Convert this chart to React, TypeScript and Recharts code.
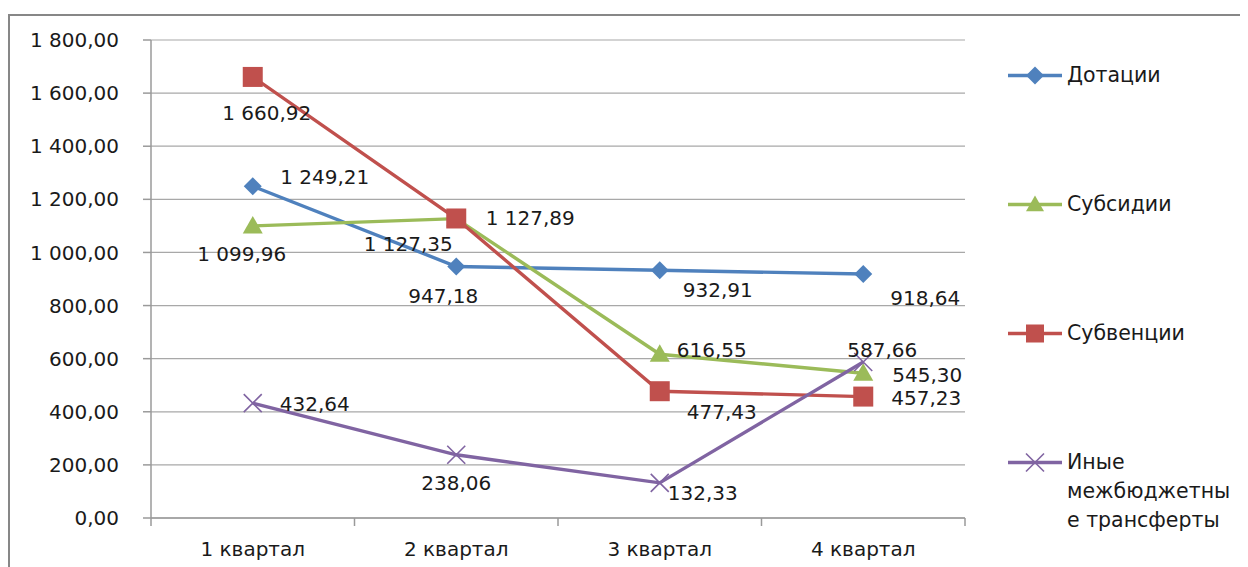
import React from 'react';
import { LineChart, Line, XAxis, YAxis, CartesianGrid, LabelList } from 'recharts';

const QUARTERS = ['1 квартал', '2 квартал', '3 квартал', '4 квартал'];
const DOTATIONS = [1249.21, 947.18, 932.91, 918.64];
const SUBSIDIES = [1099.96, 1127.35, 616.55, 545.3];
const SUBVENTIONS = [1660.92, 1127.89, 477.43, 457.23];
const OTHER = [432.64, 238.06, 132.33, 587.66];
const Y_TICKS = [0, 200, 400, 600, 800, 1000, 1200, 1400, 1600, 1800];

const FONT = '"DejaVu Sans", sans-serif';
const TEXT = '#1a1a1a';
const AXIS = '#9a9a9a';

const W = 1240;
const H = 550;
const PLOT_LEFT = 141;
const PLOT_RIGHT = 955;
const PLOT_TOP = 24;
const PLOT_BOTTOM = 502;
const BAND = (PLOT_RIGHT - PLOT_LEFT) / QUARTERS.length;

// label offsets from the point, [dx, dy]
const OFFS_DOT = [[72, -9], [-13, 30], [58, 20], [62, 24]];
const OFFS_SUBS = [[-11, 28], [-48, 25], [52, -4], [64, 2]];
const OFFS_SUBV = [[14, 36], [74, 0], [62, 21], [63, 1]];
const OFFS_OTHER = [[62, 1], [0, 28], [43, 10], [19, -12]];

const data = QUARTERS.map((q, i) => ({
  q,
  dot: DOTATIONS[i],
  subs: SUBSIDIES[i],
  subv: SUBVENTIONS[i],
  other: OTHER[i],
}));

function fmt(v: number) {
  const [int, dec] = v.toFixed(2).split('.');
  return int.replace(/\B(?=(\d{3})+(?!\d))/g, ' ') + ',' + dec;
}

const Diamond = ({ cx, cy, color, s = 9 }: any) =>
  cx == null ? null : (
    <path d={`M${cx},${cy - s}L${cx + s},${cy}L${cx},${cy + s}L${cx - s},${cy}Z`} fill={color} />
  );
const Square = ({ cx, cy, color, s = 10 }: any) =>
  cx == null ? null : <rect x={cx - s} y={cy - s} width={s * 2} height={s * 2} fill={color} />;
const Triangle = ({ cx, cy, color, s = 10 }: any) =>
  cx == null ? null : (
    <path d={`M${cx},${cy - s}L${cx + s},${cy + s * 0.75}L${cx - s},${cy + s * 0.75}Z`} fill={color} />
  );
const Cross = ({ cx, cy, color, s = 9 }: any) =>
  cx == null ? null : (
    <path d={`M${cx - s},${cy - s}L${cx + s},${cy + s}M${cx + s},${cy - s}L${cx - s},${cy + s}`} stroke={color} strokeWidth={1.6} fill="none" />
  );

const SERIES = [
  { key: 'dot', name: 'Дотации', legend: ['Дотации'], color: '#4F81BD', Marker: Diamond, offs: OFFS_DOT },
  { key: 'subs', name: 'Субсидии', legend: ['Субсидии'], color: '#9BBB59', Marker: Triangle, offs: OFFS_SUBS },
  { key: 'subv', name: 'Субвенции', legend: ['Субвенции'], color: '#C0504D', Marker: Square, offs: OFFS_SUBV },
  {
    key: 'other', name: 'Иные межбюджетные трансферты', legend: ['Иные', 'межбюджетны', 'е трансферты'],
    color: '#8064A2', Marker: Cross, offs: OFFS_OTHER,
  },
];

const LEGEND_Y = [59, 188, 317, 446];

function QuarterTick({ x, payload, index }: any) {
  return (
    <g>
      <line x1={x - BAND / 2} x2={x - BAND / 2} y1={PLOT_BOTTOM} y2={PLOT_BOTTOM + 8} stroke={AXIS} strokeWidth={1.5} />
      {index === QUARTERS.length - 1 && (
        <line x1={x + BAND / 2} x2={x + BAND / 2} y1={PLOT_BOTTOM} y2={PLOT_BOTTOM + 8} stroke={AXIS} strokeWidth={1.5} />
      )}
      <text x={x} y={PLOT_BOTTOM + 31} textAnchor="middle" dominantBaseline="central" fill={TEXT} fontSize={20} fontFamily={FONT}>
        {payload.value}
      </text>
    </g>
  );
}

export default function App() {
  return (
    <div style={{ position: 'relative', top: 6 }}>
      <div style={{ position: 'relative', width: 1250, height: 560, border: '2px solid #878787', overflow: 'hidden', background: '#fff' }}>
        <LineChart width={W} height={H} data={data} margin={{ top: PLOT_TOP, right: W - PLOT_RIGHT, left: 0, bottom: 0 }}>
          <CartesianGrid vertical={false} stroke="#a8a8a8" strokeWidth={1.2} />
          <XAxis
            dataKey="q"
            height={H - PLOT_BOTTOM}
            padding={{ left: BAND / 2, right: BAND / 2 }}
            tickLine={false}
            tickSize={0}
            stroke={AXIS}
            strokeWidth={1.5}
            tick={<QuarterTick />}
            interval={0}
          />
          <YAxis
            width={PLOT_LEFT}
            domain={[0, 1800]}
            ticks={Y_TICKS}
            tickFormatter={fmt}
            tickSize={8}
            tickMargin={24}
            stroke={AXIS}
            strokeWidth={1.5}
            tick={{ fill: TEXT, fontSize: 20, fontFamily: FONT }}
          />
          {SERIES.map(s => (
            <Line
              key={s.key}
              dataKey={s.key}
              name={s.name}
              type="linear"
              stroke={s.color}
              strokeWidth={3.4}
              isAnimationActive={false}
              dot={(p: any) => <s.Marker key={p.index} cx={p.cx} cy={p.cy} color={s.color} />}
              activeDot={false}
            >
              <LabelList
                dataKey={s.key}
                content={(p: any) => {
                  const [dx, dy] = s.offs[p.index] || [0, 0];
                  return (
                    <text
                      x={p.x + dx}
                      y={p.y + dy}
                      textAnchor="middle"
                      dominantBaseline="central"
                      fill={TEXT}
                      fontSize={20}
                      fontFamily={FONT}
                    >
                      {fmt(p.value)}
                    </text>
                  );
                }}
              />
            </Line>
          ))}
        </LineChart>
        {SERIES.map((s, i) => (
          <div
            key={s.key}
            style={{ position: 'absolute', left: 998, top: LEGEND_Y[i] - 14.5, display: 'flex', alignItems: 'flex-start' }}
          >
            <svg width={59} height={29} style={{ flex: 'none' }}>
              <line x1={0} x2={54} y1={14.5} y2={14.5} stroke={s.color} strokeWidth={3.4} />
              <s.Marker cx={27} cy={14.5} color={s.color} s={9} />
            </svg>
            <div style={{ fontFamily: FONT, fontSize: 20.5, lineHeight: '29px', color: TEXT, whiteSpace: 'nowrap' }}>
              {s.legend.map(l => (
                <div key={l}>{l}</div>
              ))}
            </div>
          </div>
        ))}
      </div>
    </div>
  );
}
